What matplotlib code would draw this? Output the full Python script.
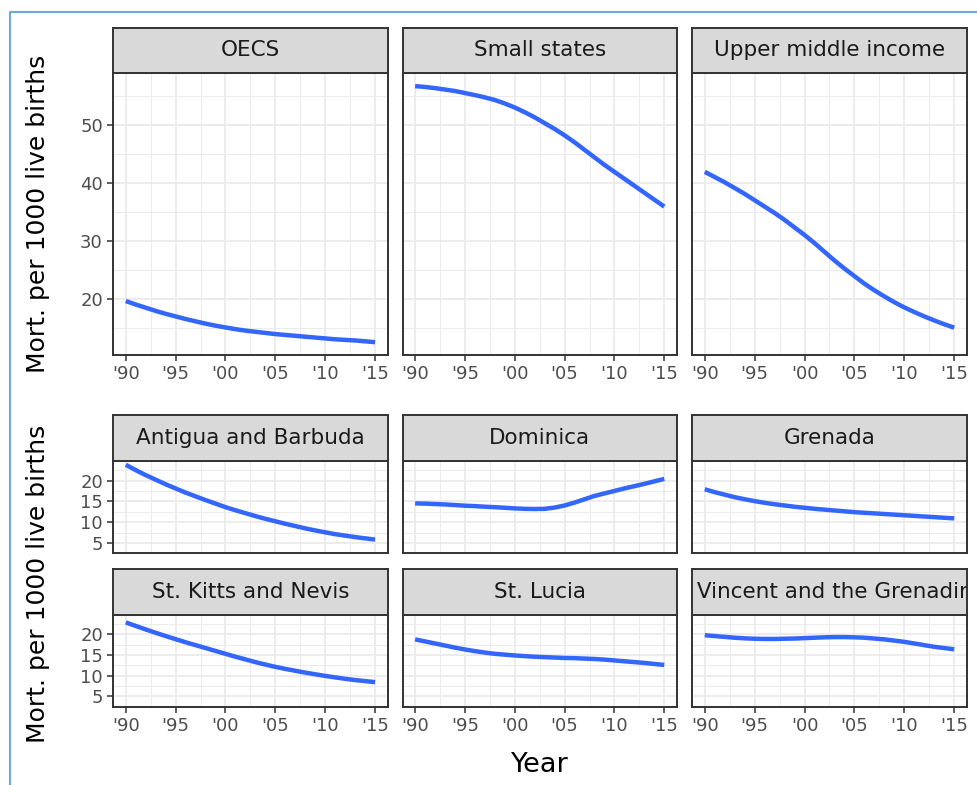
import matplotlib.pyplot as plt
from matplotlib.lines import Line2D
import numpy as np

# values, one per year 1990-2015
years = list(range(1990, 2016))

oecs = [19.6, 19.0, 18.45, 17.9, 17.4, 16.95, 16.5, 16.1, 15.7, 15.35, 15.05, 14.75, 14.5,
        14.3, 14.1, 13.9, 13.75, 13.6, 13.45, 13.3, 13.15, 13.0, 12.9, 12.8, 12.65, 12.5]
small_states = [56.7, 56.55, 56.35, 56.1, 55.85, 55.5, 55.15, 54.75, 54.3, 53.7, 53.0, 52.2, 51.3,
                50.3, 49.3, 48.2, 47.0, 45.7, 44.4, 43.1, 41.9, 40.7, 39.5, 38.3, 37.1, 35.9]
upper_middle = [41.9, 41.0, 40.1, 39.1, 38.1, 37.0, 35.9, 34.8, 33.6, 32.3, 31.0, 29.6, 28.1,
                26.6, 25.2, 23.9, 22.6, 21.45, 20.4, 19.4, 18.5, 17.7, 16.95, 16.25, 15.6, 15.0]

antigua = [23.8, 22.5, 21.3, 20.2, 19.1, 18.1, 17.1, 16.2, 15.3, 14.45, 13.6, 12.85, 12.15,
           11.45, 10.8, 10.2, 9.6, 9.05, 8.5, 8.0, 7.55, 7.1, 6.75, 6.4, 6.1, 5.8]
dominica = [14.5, 14.45, 14.35, 14.25, 14.1, 13.95, 13.85, 13.7, 13.6, 13.45, 13.3, 13.2, 13.15,
            13.2, 13.5, 14.0, 14.7, 15.5, 16.3, 16.9, 17.5, 18.1, 18.65, 19.2, 19.8, 20.4]
grenada = [17.9, 17.2, 16.6, 16.0, 15.5, 15.05, 14.65, 14.3, 14.0, 13.7, 13.45, 13.2, 13.0,
           12.8, 12.6, 12.4, 12.25, 12.1, 11.95, 11.8, 11.65, 11.5, 11.35, 11.2, 11.05, 10.9]
st_kitts = [22.9, 22.05, 21.2, 20.4, 19.6, 18.85, 18.1, 17.4, 16.7, 16.0, 15.3, 14.6, 13.95,
            13.3, 12.7, 12.15, 11.65, 11.2, 10.75, 10.35, 9.95, 9.6, 9.25, 8.95, 8.7, 8.45]
st_lucia = [18.8, 18.3, 17.8, 17.3, 16.8, 16.35, 15.95, 15.6, 15.3, 15.1, 14.9, 14.75, 14.6,
            14.5, 14.4, 14.3, 14.25, 14.15, 14.05, 13.9, 13.7, 13.5, 13.3, 13.1, 12.85, 12.6]
st_vincent = [19.8, 19.6, 19.4, 19.2, 19.05, 18.95, 18.9, 18.9, 18.95, 19.0, 19.1, 19.2, 19.3,
              19.35, 19.35, 19.3, 19.2, 19.0, 18.8, 18.5, 18.2, 17.8, 17.4, 17.0, 16.7, 16.4]

top_names = ["OECS", "Small states", "Upper middle income"]
top_series = [oecs, small_states, upper_middle]
bottom_names = ["Antigua and Barbuda", "Dominica", "Grenada",
                "St. Kitts and Nevis", "St. Lucia", "St. Vincent and the Grenadines"]
bottom_series = [antigua, dominica, grenada, st_kitts, st_lucia, st_vincent]

x_ticks = [1990, 1995, 2000, 2005, 2010, 2015]
x_ticklabels = ["'90", "'95", "'00", "'05", "'10", "'15"]
top_yticks = [20, 30, 40, 50]
bottom_yticks = [5, 10, 15, 20]

W, H = 977, 785
LINE = "#3366FF"
DARK = "#333333"
GRID = "#EBEBEB"

plt.rcParams['font.family'] = ['DejaVu Sans']

fig = plt.figure(figsize=(W / 100, H / 100), dpi=100)


def px_axes(x0, y0, x1, y1):
    return fig.add_axes([x0 / W, 1 - y1 / H, (x1 - x0) / W, (y1 - y0) / H])


def expand(lo, hi):
    pad = (hi - lo) * 0.05
    return lo - pad, hi + pad


col_x = [(113.3, 387.5), (402.7, 676.7), (692.3, 966.7)]
xlim = expand(min(years), max(years))

top_lim = expand(min(min(s) for s in top_series), max(max(s) for s in top_series))
bot_lim = expand(min(min(s) for s in bottom_series), max(max(s) for s in bottom_series))


def panel(x0, x1, strip_top, plot_top, plot_bottom, name, values, ylim, yticks,
          show_y, show_x):
    ax = px_axes(x0, plot_top, x1, plot_bottom)
    ax.plot(years, values, color=LINE, lw=3.2, solid_capstyle='butt',
            solid_joinstyle='round', zorder=3)
    ax.set_xlim(xlim)
    ax.set_ylim(ylim)
    ax.set_xticks(x_ticks)
    ax.set_xticks([1992.5, 1997.5, 2002.5, 2007.5, 2012.5], minor=True)
    ax.set_yticks(yticks)
    step = yticks[1] - yticks[0]
    ax.set_yticks(np.arange(yticks[0] - step / 2, ylim[1], step), minor=True)
    ax.grid(which='major', color=GRID, lw=1.3, zorder=0)
    ax.grid(which='minor', color=GRID, lw=0.7, zorder=0)
    ax.set_axisbelow(True)
    for sp in ax.spines.values():
        sp.set_color(DARK)
        sp.set_linewidth(1.4)
    ax.tick_params(which='minor', length=0)
    ax.tick_params(which='major', length=4.5, width=1.1, color=DARK,
                   labelcolor="#4D4D4D", labelsize=13, pad=3)
    if show_x:
        ax.set_xticklabels(x_ticklabels)
    else:
        ax.tick_params(axis='x', which='major', length=0, labelbottom=False)
    if not show_y:
        ax.tick_params(axis='y', which='major', length=0, labelleft=False)

    sax = px_axes(x0, strip_top, x1, plot_top)
    sax.set_facecolor("#D9D9D9")
    sax.set_xticks([])
    sax.set_yticks([])
    for sp in sax.spines.values():
        sp.set_color(DARK)
        sp.set_linewidth(1.4)
    t = sax.text(0.5, 0.5, name, ha='center', va='center', fontsize=15.5,
                 color="#1A1A1A", transform=sax.transAxes)
    # long names are cut at the strip edges, as in the reference
    t.set_clip_on(True)
    t.set_clip_box(sax.bbox)
    return ax


# top grid: aggregates
for i in range(3):
    x0, x1 = col_x[i]
    panel(x0, x1, 27.5, 73.3, 355, top_names[i], top_series[i], top_lim,
          top_yticks, show_y=(i == 0), show_x=True)

# bottom grid: OECS members
rows = [(415, 461, 553.3), (569, 615, 706.7)]
for k in range(6):
    r, c = divmod(k, 3)
    x0, x1 = col_x[c]
    st, pt, pb = rows[r]
    panel(x0, x1, st, pt, pb, bottom_names[k], bottom_series[k], bot_lim,
          bottom_yticks, show_y=(c == 0), show_x=(r == 1))

ylab = "Mort. per 1000 live births"
fig.text(38 / W, 1 - 214 / H, ylab, rotation=90, ha='center', va='center',
         fontsize=18, color='black')
fig.text(38 / W, 1 - 584 / H, ylab, rotation=90, ha='center', va='center',
         fontsize=18, color='black')
fig.text(540 / W, 1 - 765 / H, "Year", ha='center', va='center',
         fontsize=19.5, color='black')

# light blue frame of the document box
fig.add_artist(Line2D([10 / W, 10 / W, 1.0], [0.0, 1 - 12 / H, 1 - 12 / H],
                      transform=fig.transFigure, color="#6FA8DC", lw=1.5))

fig.savefig("out.png", dpi=100)
